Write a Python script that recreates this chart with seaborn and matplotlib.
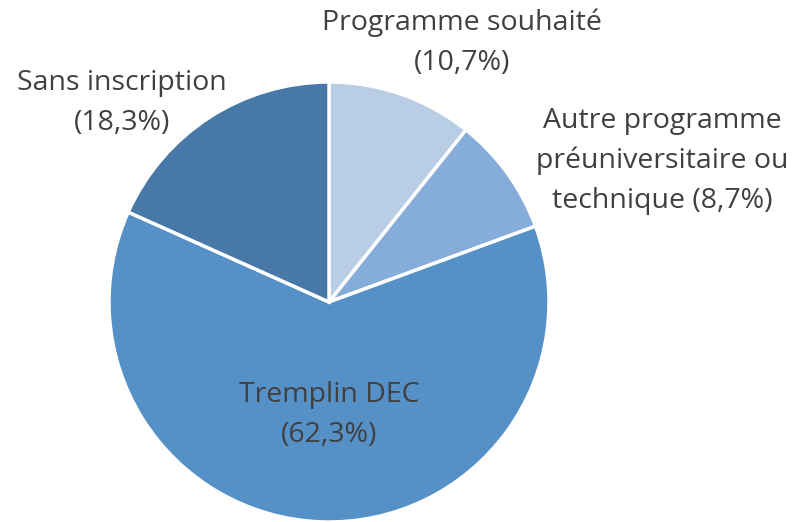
import matplotlib
matplotlib.use("Agg")
import matplotlib.pyplot as plt
import seaborn as sns

categories = ["Programme souhaité", "Autre programme\npréuniversitaire ou\ntechnique", "Tremplin DEC", "Sans inscription"]
values = [10.7, 8.7, 62.3, 18.3]
colors = ["#B9CDE5", "#86ADDA", "#5590C6", "#4778A7"]

sns.set_theme(style="white")
plt.rcParams['font.family'] = ['Open Sans', 'DejaVu Sans']

fig = plt.figure(figsize=(7.96, 5.22), dpi=100)
ax = fig.add_axes([0, 0, 1, 1])

cx, cy, r = 329, 522 - 302, 220
ax.pie(values, colors=colors, startangle=90, counterclock=False,
       center=(cx, cy), radius=r, frame=True,
       wedgeprops=dict(edgecolor="white", linewidth=2.5))
ax.set_xlim(0, 796)
ax.set_ylim(0, 522)
ax.set_aspect('equal')
ax.axis('off')

def fmt(v):
    return f"{v:.1f}".replace(".", ",")

label_texts = [
    f"{categories[0]}\n({fmt(values[0])}%)",
    f"{categories[1]} ({fmt(values[1])}%)",
    f"{categories[2]}\n({fmt(values[2])}%)",
    f"{categories[3]}\n({fmt(values[3])}%)",
]
label_pos = [(462, 522 - 43), (662, 522 - 161), (329, 522 - 415), (122, 522 - 103)]
for t, (x, y) in zip(label_texts, label_pos):
    ax.text(x, y, t, ha="center", va="center", fontsize=20.5, color="#404040",
            linespacing=1.55)

fig.savefig("out.png", dpi=100)
